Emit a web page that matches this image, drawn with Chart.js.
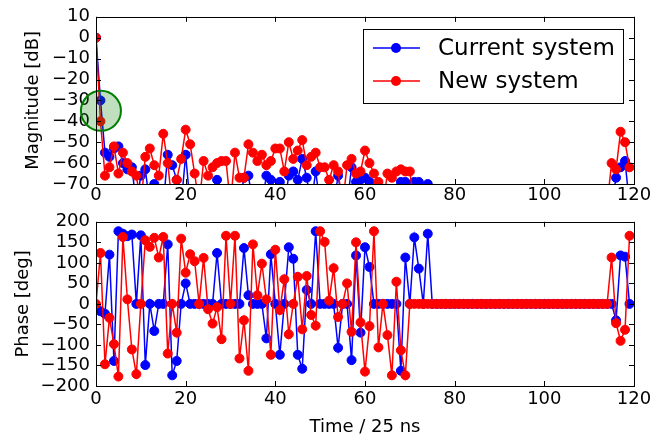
<!DOCTYPE html>
<html>
<head>
<meta charset="utf-8">
<script src="https://cdn.jsdelivr.net/npm/chart.js@4.4.1/dist/chart.umd.min.js"></script>
<style>
  body { margin: 0; background: #fff; }
  #wrap { position: relative; width: 667px; height: 439px; }
  #magChart { position: absolute; left: 0; top: 0; }
  #phaseChart { position: absolute; left: 0; top: 205px; }
</style>
</head>
<body>
<div id="wrap">
  <canvas id="magChart" width="667" height="210"></canvas>
  <canvas id="phaseChart" width="667" height="234"></canvas>
</div>
<script>
// sample index (time / 25 ns)
const timeIdx = Array.from({length: 120}, (_, i) => i);

const seriesNames = ['Current system', 'New system'];
const seriesColors = ['#0000ff', '#ff0000'];

// magnitude in dB, values under -70 are off the plot
const magCurrent = [
  0, -30, -55, -57, -53, -52, -60, -63, -62, -80,
  -66, -63, -80, -70, -80, -80, -56, -61, -68, -80,
  -56, -80, -80, -80, -80, -80, -80, -68, -80, -80,
  -80, -80, -80, -67, -66, -80, -80, -80, -66, -68,
  -80, -69, -80, -66, -64, -68, -58, -67, -80, -64,
  -80, -80, -80, -80, -66, -80, -80, -62, -69, -68,
  -67, -69, -80, -80, -80, -80, -80, -80, -69, -69,
  -80, -69, -69, -80, -70, -80, -80, -80, -80, -80,
  -80, -80, -80, -80, -80, -80, -80, -80, -80, -80,
  -80, -80, -80, -80, -80, -80, -80, -80, -80, -80,
  -80, -80, -80, -80, -80, -80, -80, -80, -80, -80,
  -80, -80, -80, -80, -80, -80, -67, -62, -59, -80
];
const magNew = [
  0, -40, -66, -62, -52, -65, -55, -60, -64, -66,
  -80, -57, -53, -61, -66, -46, -60, -80, -68, -58,
  -44, -51, -65, -80, -59, -66, -62, -60, -59, -59,
  -80, -55, -67, -67, -51, -55, -59, -56, -61, -59,
  -53, -53, -64, -50, -58, -54, -49, -61, -57, -55,
  -62, -62, -68, -61, -64, -80, -61, -58, -65, -64,
  -54, -60, -65, -69, -80, -65, -67, -64, -63, -64,
  -64, -80, -80, -80, -80, -80, -80, -80, -80, -80,
  -80, -80, -80, -80, -80, -80, -80, -80, -80, -80,
  -80, -80, -80, -80, -80, -80, -80, -80, -80, -80,
  -80, -80, -80, -80, -80, -80, -80, -80, -80, -80,
  -80, -80, -80, -80, -80, -60, -63, -45, -50, -62
];

// phase in degrees
const phaseCurrent = [
  -10, -18, -24, 120, -139, 177, 171, 165, 169, 0,
  167, -149, 0, -66, 0, 0, 145, -174, -139, 0,
  50, 0, 0, 0, 0, 0, 0, 124, 0, 0,
  0, 0, 0, 136, 21, 0, 0, 0, -84, 121,
  0, -124, 0, 138, 110, -124, -158, 34, 0, 177,
  0, 0, 0, 0, -107, 0, 0, -137, 118, -70,
  138, 90, 0, 0, 0, 0, 0, 0, -163, 113,
  0, 162, 86, 0, 171, 0, 0, 0, 0, 0,
  0, 0, 0, 0, 0, 0, 0, 0, 0, 0,
  0, 0, 0, 0, 0, 0, 0, 0, 0, 0,
  0, 0, 0, 0, 0, 0, 0, 0, 0, 0,
  0, 0, 0, 0, 0, 0, -40, 118, 115, 0
];
const phaseNew = [
  0, 124, -147, -34, -98, -177, 163, 11, -111, -171,
  0, 155, 139, 161, 113, 163, -121, 0, -70, 159,
  76, 121, 104, 0, 112, -13, -48, -8, -86, 166,
  0, 166, -133, -40, -163, 145, 21, 98, 11, -124,
  132, -15, 60, -74, 0, 66, -62, 68, -27, -53,
  177, 151, 8, 87, -32, 0, 50, -68, 150, -45,
  -165, -54, 177, -106, 0, -76, -174, 54, -113, -174,
  0, 0, 0, 0, 0, 0, 0, 0, 0, 0,
  0, 0, 0, 0, 0, 0, 0, 0, 0, 0,
  0, 0, 0, 0, 0, 0, 0, 0, 0, 0,
  0, 0, 0, 0, 0, 0, 0, 0, 0, 0,
  0, 0, 0, 0, 0, 113, -47, -90, -63, 166
];

// highlighted point (green circle)
const markCenter = {x: 1.1, y: -35};

Chart.defaults.font.family = '"DejaVu Sans", sans-serif';
Chart.defaults.font.size = 18;
Chart.defaults.color = '#000';

function toPoints(values) {
  return values.map((v, i) => ({x: timeIdx[i], y: v}));
}

function makeDataset(idx, values) {
  return {
    label: seriesNames[idx],
    data: toPoints(values),
    borderColor: seriesColors[idx],
    backgroundColor: seriesColors[idx],
    borderWidth: 1.5,
    pointRadius: 4.5,
    pointBorderWidth: 1,
    pointHoverRadius: 4.5,
    order: 2 - idx,
    clip: 0
  };
}

function minusSign(v) {
  return String(v).replace('-', '\u2212');
}

// frame plus inward ticks on all four sides
const framePlugin = {
  id: 'frame',
  afterDraw(chart) {
    const ctx = chart.ctx;
    const a = chart.chartArea;
    const xs = chart.scales.x, ys = chart.scales.y;
    ctx.save();
    ctx.strokeStyle = '#000';
    ctx.lineWidth = 1;
    ctx.beginPath();
    xs.ticks.forEach(t => {
      const px = Math.round(xs.getPixelForValue(t.value)) + 0.5;
      ctx.moveTo(px, a.bottom); ctx.lineTo(px, a.bottom - 5);
      ctx.moveTo(px, a.top); ctx.lineTo(px, a.top + 5);
    });
    ys.ticks.forEach(t => {
      const py = Math.round(ys.getPixelForValue(t.value)) + 0.5;
      ctx.moveTo(a.left, py); ctx.lineTo(a.left + 5, py);
      ctx.moveTo(a.right, py); ctx.lineTo(a.right - 5, py);
    });
    ctx.stroke();
    ctx.strokeRect(Math.round(a.left) + 0.5, Math.round(a.top) + 0.5,
      Math.round(a.right - a.left), Math.round(a.bottom - a.top));
    ctx.restore();
  }
};

const circlePlugin = {
  id: 'circleMark',
  afterDatasetsDraw(chart) {
    const ctx = chart.ctx;
    const px = chart.scales.x.getPixelForValue(markCenter.x);
    const py = chart.scales.y.getPixelForValue(markCenter.y);
    ctx.save();
    ctx.beginPath();
    ctx.arc(px, py, 20, 0, Math.PI * 2);
    ctx.fillStyle = 'rgba(0,128,0,0.25)';
    ctx.fill();
    ctx.strokeStyle = '#007f00';
    ctx.lineWidth = 2;
    ctx.stroke();
    ctx.restore();
  }
};

const legendPlugin = {
  id: 'boxLegend',
  afterDraw(chart) {
    const ctx = chart.ctx;
    const a = chart.chartArea;
    const left = Math.round(a.right - 271), top = Math.round(a.top + 12);
    ctx.save();
    ctx.fillStyle = '#fff';
    ctx.fillRect(left, top, 260, 74);
    ctx.strokeStyle = '#000';
    ctx.lineWidth = 1;
    ctx.strokeRect(left + 0.5, top + 0.5, 260, 74);
    const rows = [top + 19, top + 52];
    ctx.font = '23px "DejaVu Sans", sans-serif';
    ctx.textBaseline = 'middle';
    for (let i = 0; i < 2; i++) {
      ctx.strokeStyle = seriesColors[i];
      ctx.fillStyle = seriesColors[i];
      ctx.lineWidth = 1.5;
      ctx.beginPath();
      ctx.moveTo(left + 10, rows[i]);
      ctx.lineTo(left + 57, rows[i]);
      ctx.stroke();
      ctx.beginPath();
      ctx.arc(left + 33, rows[i], 5, 0, Math.PI * 2);
      ctx.fill();
      ctx.fillStyle = '#000';
      ctx.fillText(seriesNames[i], left + 75, rows[i] + 1);
    }
    ctx.restore();
  }
};

function makeOptions(cfg) {
  return {
    responsive: false,
    animation: false,
    events: [],
    layout: {padding: {left: 0, right: 33, top: cfg.padTop, bottom: 0}},
    plugins: {legend: {display: false}, tooltip: {enabled: false}},
    scales: {
      x: {
        type: 'linear',
        min: 0, max: 120,
        grid: {display: false, drawTicks: false},
        border: {display: false},
        ticks: {stepSize: 20, autoSkip: false, maxRotation: 0, padding: cfg.xPad, callback: minusSign},
        title: {display: !!cfg.xTitle, text: cfg.xTitle || '', padding: {top: 0, bottom: 1}},
        afterFit: s => { s.height = cfg.xHeight; }
      },
      y: {
        min: cfg.yMin, max: cfg.yMax,
        grid: {display: false, drawTicks: false},
        border: {display: false},
        ticks: {stepSize: cfg.yStep, autoSkip: false, padding: 6, callback: minusSign},
        title: {display: true, text: cfg.yTitle, padding: {top: cfg.yTitlePad, bottom: 0}},
        afterFit: s => { s.width = 96; }
      }
    }
  };
}

new Chart(document.getElementById('magChart'), {
  type: 'line',
  data: {datasets: [makeDataset(0, magCurrent), makeDataset(1, magNew)]},
  options: makeOptions({padTop: 16, xPad: 1, xHeight: 26, yMin: -70, yMax: 10, yStep: 10,
    yTitle: 'Magnitude [dB]', yTitlePad: 23}),
  plugins: [circlePlugin, framePlugin, legendPlugin]
});

new Chart(document.getElementById('phaseChart'), {
  type: 'line',
  data: {datasets: [makeDataset(0, phaseCurrent), makeDataset(1, phaseNew)]},
  options: makeOptions({padTop: 13, xPad: 3, xHeight: 53, yMin: -200, yMax: 200, yStep: 50,
    yTitle: 'Phase [deg]', yTitlePad: 13, xTitle: 'Time / 25 ns'}),
  plugins: [framePlugin]
});
</script>
</body>
</html>
